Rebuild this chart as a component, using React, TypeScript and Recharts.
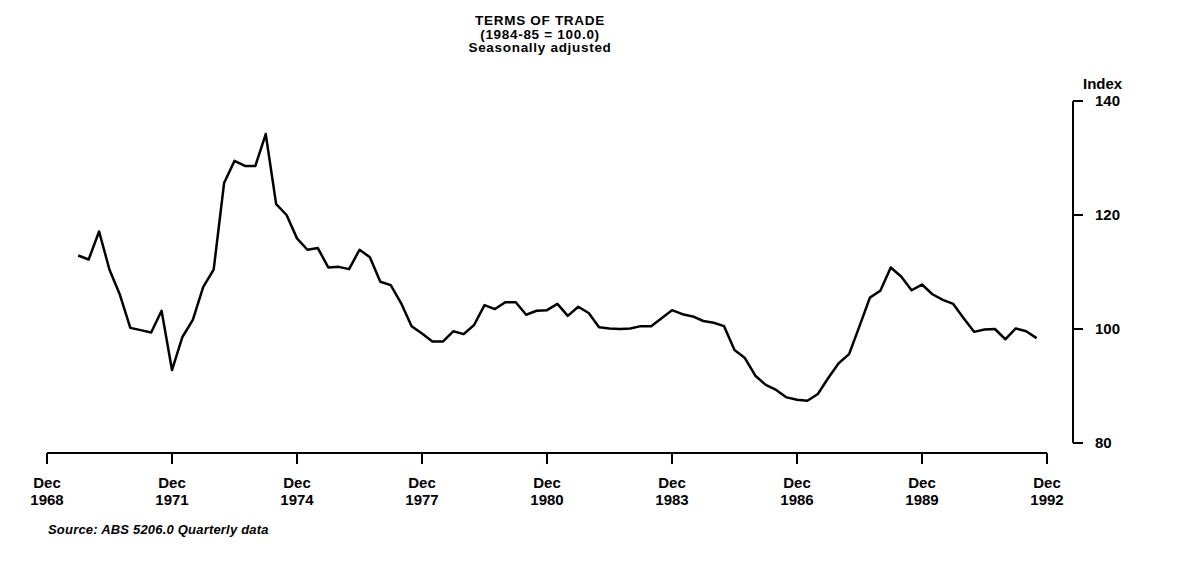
import { LineChart, Line, XAxis, YAxis } from 'recharts';

// quarterly index, Sep 1969 .. Sep 1992 (x = quarters since Dec 1968)
const firstQuarter = 3;
const termsOfTrade = [
  112.9, 112.2,
  117.1, 110.4, 106.0, 100.2,
  99.8, 99.4, 103.2, 92.8,
  98.6, 101.6, 107.4, 110.4,
  125.6, 129.5, 128.6, 128.6,
  134.2, 121.9, 120.0, 115.9,
  113.9, 114.2, 110.8, 110.9,
  110.5, 113.9, 112.6, 108.3,
  107.7, 104.5, 100.5, 99.2,
  97.8, 97.8, 99.6, 99.1,
  100.7, 104.2, 103.5, 104.7,
  104.7, 102.5, 103.2, 103.3,
  104.4, 102.3, 103.9, 102.8,
  100.3, 100.1, 100.0, 100.1,
  100.5, 100.5, 101.9, 103.3,
  102.6, 102.2, 101.4, 101.1,
  100.5, 96.3, 94.9, 91.8,
  90.2, 89.3, 88.0, 87.6,
  87.4, 88.6, 91.4, 94.0,
  95.6, 100.5, 105.5, 106.7,
  110.8, 109.2, 106.8, 107.8,
  106.1, 105.1, 104.4, 101.9,
  99.5, 99.9, 100.0, 98.2,
  100.1, 99.6, 98.4,
];

const xTicks = [0, 12, 24, 36, 48, 60, 72, 84, 96];
const xTickYears = ['1968', '1971', '1974', '1977', '1980', '1983', '1986', '1989', '1992'];
const yTicks = [80, 100, 120, 140];

const FONT = '"Liberation Sans", Arial, Helvetica, sans-serif';

const data = termsOfTrade.map((v, i) => ({ q: firstQuarter + i, value: v }));

const XTick = ({ x, y, payload }: any) => {
  const idx = xTicks.indexOf(payload.value);
  return (
    <g fontFamily={FONT} fontWeight={700} fontSize={15} fill="#000">
      <text x={x} y={y + 24} textAnchor="middle">Dec</text>
      <text x={x} y={y + 41} textAnchor="middle">{xTickYears[idx]}</text>
    </g>
  );
};

export default function App() {
  return (
    <div style={{ position: 'relative', width: 1180, height: 568, background: '#fff', fontFamily: FONT }}>
      <div
        style={{
          position: 'absolute',
          left: 332,
          width: 400,
          top: 6,
          textAlign: 'center',
          fontWeight: 700,
          fontSize: 13.5,
          letterSpacing: 0.7,
          lineHeight: '13.5px',
          color: '#000',
        }}
      >
        <div>TERMS OF TRADE</div>
        <div>(1984-85 = 100.0)</div>
        <div>Seasonally adjusted</div>
      </div>
      <div
        style={{ position: 'absolute', left: 1075, top: 68, fontSize: 15, fontWeight: 700, lineHeight: '16px' }}
      >
        Index
      </div>
      <div
        style={{
          position: 'absolute',
          left: 40,
          top: 514,
          fontSize: 13,
          letterSpacing: 0.2,
          fontWeight: 700,
          fontStyle: 'italic',
          lineHeight: '15px',
        }}
      >
        Source: ABS 5206.0 Quarterly data
      </div>

      <LineChart width={1180} height={568} data={data} margin={{ top: 93, left: 39, right: 55, bottom: 63 }}>
        <XAxis
          dataKey="q"
          type="number"
          domain={[0, 96]}
          ticks={xTicks}
          padding={{ left: 0, right: 26 }}
          height={60}
          tickSize={11}
          tickMargin={0}
          axisLine={{ stroke: '#000', strokeWidth: 2, strokeDasharray: '1000 100' }}
          tickLine={{ stroke: '#000', strokeWidth: 2 }}
          tick={<XTick />}
          interval={0}
        />
        <YAxis
          orientation="right"
          type="number"
          domain={[80, 140]}
          ticks={yTicks}
          padding={{ top: 0, bottom: 10 }}
          width={60}
          tickSize={10}
          tickMargin={12}
          axisLine={{ stroke: '#000', strokeWidth: 2, strokeDasharray: '342 100' }}
          tickLine={{ stroke: '#000', strokeWidth: 2 }}
          tick={{ fill: '#000', fontSize: 15, fontWeight: 700, fontFamily: FONT }}
          interval={0}
        />
        <Line
          type="linear"
          dataKey="value"
          stroke="#000"
          strokeWidth={2.5}
          strokeLinejoin="round"
          dot={false}
          isAnimationActive={false}
        />
      </LineChart>
    </div>
  );
}
